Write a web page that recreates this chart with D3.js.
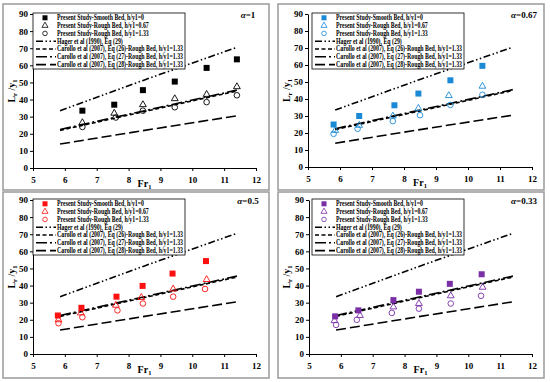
<!DOCTYPE html>
<html>
<head>
<meta charset="utf-8">
<script src="https://cdn.jsdelivr.net/npm/d3@7"></script>
<style>
    body { margin: 0; background: #fff; }
    svg { display: block; font-family: "Liberation Serif", "Times New Roman", serif; font-weight: bold; }
</style>
</head>
<body>
<svg id="chart" width="550" height="382"></svg>
<script>
// Panel labels and series colours
var panelLabels = ["1", "0.67", "0.5", "0.33"];
var panelColors = ["#000000", "#1b8ad6", "#ff1010", "#7a2fa6"];

// Present study, smooth bed h/y1=0
var smoothFr = [
    [6.55, 7.55, 8.45, 9.45, 10.45, 11.4],
    [5.8, 6.6, 7.7, 8.45, 9.45, 10.45],
    [5.78, 6.52, 7.62, 8.44, 9.38, 10.43],
    [5.82, 6.55, 7.65, 8.45, 9.42, 10.42]
];
var smoothLr = [
    [33.5, 37, 45.5, 50.5, 58.5, 63.5],
    [25, 30, 36.3, 43.2, 51, 59.5],
    [22.5, 27, 33.5, 39.8, 47, 54.3],
    [22, 25.5, 31.5, 36.4, 41, 46.6]
];

// Present study, rough bed h/y1=0.67
var rough067Fr = [
    [6.55, 7.55, 8.45, 9.45, 10.45, 11.4],
    [5.85, 6.6, 7.65, 8.45, 9.4, 10.45],
    [5.8, 6.5, 7.6, 8.4, 9.4, 10.45],
    [5.8, 6.6, 7.65, 8.45, 9.45, 10.45]
];
var rough067Lr = [
    [26.5, 32, 37, 40.5, 43, 47.5],
    [21.5, 24.5, 30, 34.5, 42, 47.5],
    [20, 24, 28.5, 33, 38, 43.5],
    [19.5, 22.5, 27.5, 29.5, 34, 39]
];

// Present study, rough bed h/y1=1.33
var rough133Fr = [
    [6.55, 7.6, 8.45, 9.45, 10.45, 11.4],
    [5.8, 6.55, 7.65, 8.5, 9.45, 10.45],
    [5.8, 6.55, 7.65, 8.45, 9.4, 10.4],
    [5.85, 6.5, 7.6, 8.45, 9.45, 10.4]
];
var rough133Lr = [
    [24, 29.5, 33.5, 35.5, 38.5, 42.5],
    [19.5, 22.5, 27, 30.5, 36.5, 42.5],
    [18, 21.5, 25.5, 29.5, 33.5, 38],
    [17, 20, 24, 26.5, 29.5, 34]
];

// Equation curves (same in every panel)
var hagerFr = [5.85, 8.5, 11.4];
var hagerLr = [33.5, 51.5, 70.5];
var eq26Fr = [5.85, 8.5, 11.4];
var eq26Lr = [22, 33, 45];
var eq27Fr = [5.85, 8.5, 11.4];
var eq27Lr = [22.5, 33.5, 45.5];
var eq28Fr = [5.85, 8.5, 11.4];
var eq28Lr = [14, 22, 30.5];

var xTicks = [5, 6, 7, 8, 9, 10, 11, 12];
var yTicks = [0, 10, 20, 30, 40, 50, 60, 70, 80, 90];

var legendNames = [
    "Present Study-Smooth Bed, h/y1=0",
    "Present Study-Rough Bed, h/y1=0.67",
    "Present Study-Rough Bed, h/y1=1.33",
    "Hager et al (1990), Eq (29)",
    "Carollo et al (2007), Eq (26)-Rough Bed, h/y1=1.33",
    "Carollo et al (2007), Eq (27)-Rough Bed, h/y1=1.33",
    "Carollo et al (2007), Eq (28)-Rough Bed, h/y1=1.33"
];

// layout of the four panels
var frames = [[3, 4], [278, 4], [3, 192], [278, 192]];
var plotBox = [
    {left: 33, right: 256, top: 14, bottom: 168},
    {left: 308, right: 532, top: 14, bottom: 167},
    {left: 33, right: 256, top: 200, bottom: 354},
    {left: 309, right: 532, top: 200, bottom: 354}
];
var legendLeft = [33, 312, 33, 312];

var lineStyles = [
    {dash: "7,2.5,1.5,2.5,1.5,2.5"},
    {dash: "4,2.5"},
    {dash: "11,3,2,3"},
    {dash: "10,4"}
];

var svg = d3.select("#chart");

function drawPanel(i) {
    var b = plotBox[i];
    var color = panelColors[i];

    svg.append("rect")
        .attr("x", frames[i][0])
        .attr("y", frames[i][1])
        .attr("width", 266)
        .attr("height", 186)
        .attr("fill", "none")
        .attr("stroke", "#9a9a9a")
        .attr("stroke-width", 1.5);

    var x = d3.scaleLinear().domain([5, 12]).range([b.left, b.right]);
    var y = d3.scaleLinear().domain([0, 90]).range([b.bottom, b.top]);

    var g = svg.append("g");

    // axes
    var xAxis = d3.axisBottom(x).tickValues(xTicks).tickFormat(d3.format("d")).tickSize(3).tickSizeOuter(0);
    var yAxis = d3.axisLeft(y).tickValues(yTicks).tickFormat(d3.format("d")).tickSize(3).tickSizeOuter(0);

    var gx = g.append("g")
        .attr("transform", "translate(0," + b.bottom + ")")
        .call(xAxis);
    var gy = g.append("g")
        .attr("transform", "translate(" + b.left + ",0)")
        .call(yAxis);

    [gx, gy].forEach(function (a) {
        a.selectAll("path, line").attr("stroke", "#000").attr("stroke-width", 1);
        a.selectAll("text")
            .attr("font-family", "Liberation Serif, Times New Roman, serif")
            .attr("font-weight", "bold")
            .attr("font-size", 9)
            .attr("fill", "#000");
    });
    gx.selectAll("text").attr("dy", "0.95em");
    gy.selectAll("text").attr("x", -5);

    // axis titles
    var ylab = g.append("text")
        .attr("transform", "translate(" + (frames[i][0] + 12) + "," + ((b.top + b.bottom) / 2) + ") rotate(-90)")
        .attr("text-anchor", "middle")
        .attr("font-size", 10);
    ylab.append("tspan").text("L");
    ylab.append("tspan").attr("font-size", 6.5).attr("dy", 2).text("r");
    ylab.append("tspan").attr("dy", -2).text(" /y");
    ylab.append("tspan").attr("font-size", 6.5).attr("dy", 2).text("1");

    var xlab = g.append("text")
        .attr("x", (b.left + b.right) / 2)
        .attr("y", b.bottom + 19)
        .attr("text-anchor", "middle")
        .attr("font-size", 10);
    xlab.append("tspan").text("Fr");
    xlab.append("tspan").attr("font-size", 6.5).attr("dy", 2).text("1");

    // alpha label
    var al = g.append("text")
        .attr("x", b.right - 8)
        .attr("y", b.top + 4)
        .attr("text-anchor", "middle")
        .attr("font-size", 9);
    al.append("tspan").attr("font-style", "italic").text("α");
    al.append("tspan").text("=" + panelLabels[i]);

    // equation lines
    var line = d3.line()
        .x(function (d) { return x(d[0]); })
        .y(function (d) { return y(d[1]); });

    var curves = [
        d3.zip(hagerFr, hagerLr),
        d3.zip(eq26Fr, eq26Lr),
        d3.zip(eq27Fr, eq27Lr),
        d3.zip(eq28Fr, eq28Lr)
    ];
    curves.forEach(function (c, k) {
        g.append("path")
            .datum(c)
            .attr("d", line)
            .attr("fill", "none")
            .attr("stroke", "#000")
            .attr("stroke-width", 1.6)
            .attr("stroke-dasharray", lineStyles[k].dash);
    });

    // markers
    g.selectAll(".sq")
        .data(d3.zip(smoothFr[i], smoothLr[i]))
        .enter()
        .append("rect")
        .attr("x", function (d) { return x(d[0]) - 3; })
        .attr("y", function (d) { return y(d[1]) - 3; })
        .attr("width", 6)
        .attr("height", 6)
        .attr("fill", color);

    var tri = d3.symbol().type(d3.symbolTriangle).size(20);
    g.selectAll(".tri")
        .data(d3.zip(rough067Fr[i], rough067Lr[i]))
        .enter()
        .append("path")
        .attr("d", tri)
        .attr("transform", function (d) { return "translate(" + x(d[0]) + "," + y(d[1]) + ")"; })
        .attr("fill", "none")
        .attr("stroke", color)
        .attr("stroke-width", 0.9);

    g.selectAll(".circ")
        .data(d3.zip(rough133Fr[i], rough133Lr[i]))
        .enter()
        .append("circle")
        .attr("cx", function (d) { return x(d[0]); })
        .attr("cy", function (d) { return y(d[1]); })
        .attr("r", 2.8)
        .attr("fill", "none")
        .attr("stroke", color)
        .attr("stroke-width", 0.9);

    // legend
    var lx = legendLeft[i], ly = b.top - 1;
    var leg = g.append("g");
    leg.append("rect")
        .attr("x", lx)
        .attr("y", ly)
        .attr("width", 152)
        .attr("height", 56)
        .attr("fill", "#fff")
        .attr("stroke", "#000")
        .attr("stroke-width", 0.8);

    var texts = legendNames.map(function (name, k) {
        return leg.append("text")
            .attr("x", lx + 24)
            .attr("y", ly + 4.8 + k * 7.8 + 2.4)
            .attr("font-size", 7.2)
            .text(name);
    });
    // squeeze the legend text so the longest row fits the box
    var widths = texts.map(function (t) { return t.node().getComputedTextLength(); });
    var k0 = 126 / d3.max(widths);
    texts.forEach(function (t, k) {
        t.attr("textLength", widths[k] * k0).attr("lengthAdjust", "spacingAndGlyphs");
    });

    legendNames.forEach(function (name, k) {
        var cy = ly + 4.8 + k * 7.8;
        var mx = lx + 12;
        if (k === 0) {
            leg.append("rect").attr("x", mx - 2.5).attr("y", cy - 2.5)
                .attr("width", 5).attr("height", 5).attr("fill", color);
        } else if (k === 1) {
            leg.append("path").attr("d", d3.symbol().type(d3.symbolTriangle).size(16))
                .attr("transform", "translate(" + mx + "," + cy + ")")
                .attr("fill", "none").attr("stroke", color).attr("stroke-width", 0.8);
        } else if (k === 2) {
            leg.append("circle").attr("cx", mx).attr("cy", cy).attr("r", 2.3)
                .attr("fill", "none").attr("stroke", color).attr("stroke-width", 0.8);
        } else {
            leg.append("line")
                .attr("x1", lx + 3).attr("x2", lx + 23)
                .attr("y1", cy).attr("y2", cy)
                .attr("stroke", "#000")
                .attr("stroke-width", 1.6)
                .attr("stroke-dasharray", lineStyles[k - 3].dash);
        }
    });
}

for (var i = 0; i < 4; i++) {
    drawPanel(i);
}
</script>
</body>
</html>
